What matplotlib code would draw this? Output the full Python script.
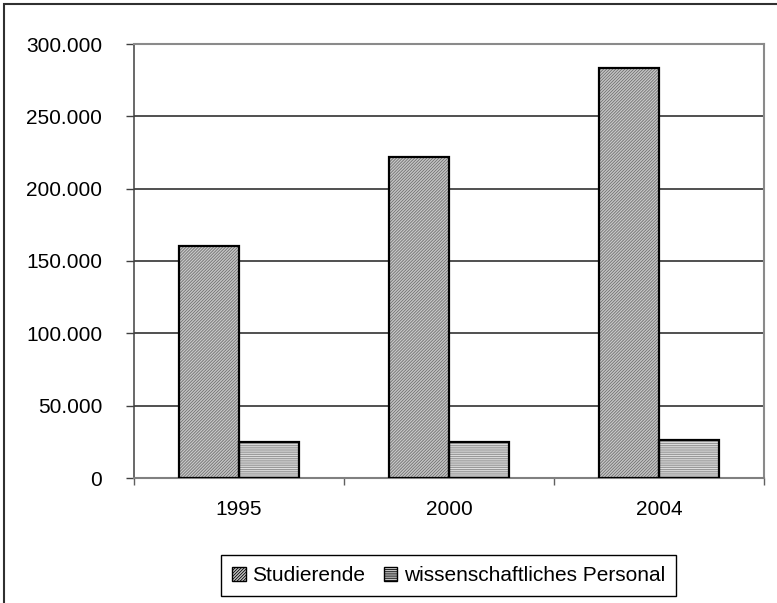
import matplotlib
matplotlib.use("Agg")
import matplotlib.pyplot as plt
import numpy as np
from matplotlib.patches import Rectangle, Patch
from matplotlib.ticker import FuncFormatter, FixedLocator

years = ["1995", "2000", "2004"]
studierende = [160600, 222000, 283400]
personal = [24700, 24700, 26000]
series_names = ["Studierende", "wissenschaftliches Personal"]
y_ticks = [0, 50000, 100000, 150000, 200000, 250000, 300000]

plt.rcParams['font.family'] = ['Liberation Sans', 'DejaVu Sans']
plt.rcParams['hatch.linewidth'] = 0.6

W, H = 777, 603
fig = plt.figure(figsize=(W / 100, H / 100), dpi=100)
ax = fig.add_axes([134 / W, 1 - 478 / H, 630 / W, 434 / H])

x = np.arange(len(years))
bw = 60 / 210

S_FACE, S_HATCH, S_HCOL = '#c8c8c8', '/' * 11, '#707070'
P_FACE, P_HATCH, P_HCOL = '#e0e0e0', '-' * 9, '#8a8a8a'

def draw(xpos, vals, face, hatch, hcol):
    ax.bar(xpos, vals, bw, color=face, hatch=hatch, edgecolor=hcol, linewidth=0, zorder=3)
    ax.bar(xpos, vals, bw, fill=False, edgecolor='black', linewidth=1.6, zorder=4)

draw(x - bw / 2, studierende, S_FACE, S_HATCH, S_HCOL)
draw(x + bw / 2, personal, P_FACE, P_HATCH, P_HCOL)

ax.set_xlim(-0.5, len(years) - 0.5)
ax.set_ylim(0, 300000)
ax.set_yticks(y_ticks)
ax.yaxis.set_major_formatter(FuncFormatter(lambda v, p: f"{int(v):,}".replace(",", ".")))
ax.set_xticks(x)
ax.set_xticklabels(years)
ax.xaxis.set_minor_locator(FixedLocator(np.arange(-0.5, len(years), 1.0)))
ax.tick_params(axis='x', which='major', length=0, pad=16, labelsize=15)
ax.tick_params(axis='x', which='minor', length=5, width=1, color='#606060')
ax.tick_params(axis='y', length=6, width=1, color='#404040', pad=17, labelsize=15)

ax.grid(axis='y', color='#202020', linewidth=1.1, zorder=1)
ax.set_axisbelow(True)
for s in ['top', 'right']:
    ax.spines[s].set_color('#8a8a8a')
    ax.spines[s].set_linewidth(1.5)
ax.spines['left'].set_color('#404040')
ax.spines['left'].set_linewidth(1.1)
ax.spines['bottom'].set_color('#808080')
ax.spines['bottom'].set_linewidth(1.5)

handles = [
    Patch(facecolor=S_FACE, hatch=S_HATCH, edgecolor=S_HCOL, linewidth=0),
    Patch(facecolor=P_FACE, hatch=P_HATCH, edgecolor=P_HCOL, linewidth=0),
]
leg = fig.legend(handles, series_names, loc='center', bbox_to_anchor=(448.5 / W, 1 - 575.5 / H),
                 bbox_transform=fig.transFigure, ncol=2, fontsize=15, frameon=True, fancybox=False,
                 edgecolor='black', framealpha=1, handlelength=0.65, handleheight=0.65,
                 handletextpad=0.3, columnspacing=0.9, borderpad=0.55, borderaxespad=0)
leg.get_frame().set_linewidth(1.0)
for h in leg.legend_handles:
    h.set_edgecolor('black')
    h.set_linewidth(1.0)

fig.patches.append(Rectangle((3.5 / W, -0.1), 2, 1.1 - 4.5 / H, transform=fig.transFigure,
                             fill=False, edgecolor='#303030', linewidth=1.5))

fig.savefig("out.png", dpi=100)
